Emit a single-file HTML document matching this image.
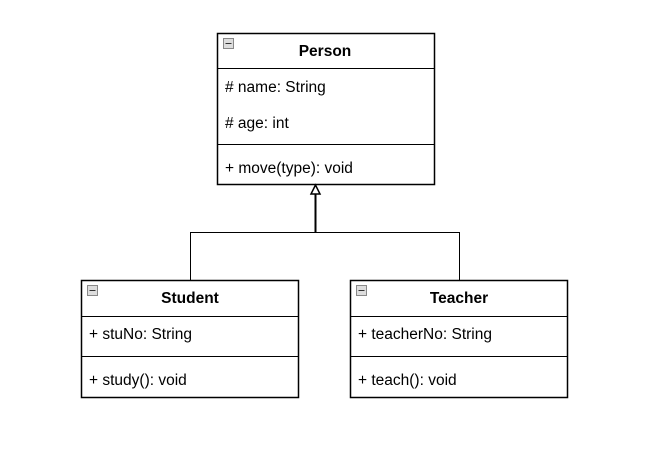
<!DOCTYPE html>
<html><head><style>body{margin:0;background:#fff}svg{display:block}text{font-family:"Liberation Sans",Arial,sans-serif;font-size:15.5px;fill:#000}</style></head>
<body>
<svg width="652" height="458" viewBox="0 0 652 458">
<g fill="none" stroke="#000" stroke-width="1">
<path d="M190.5 280V232.5H459.5V280"/>
<path d="M315.5 232.5V194" stroke-width="2"/>
<path d="M315.5 185L311 194H320Z" fill="#fff" stroke-width="1.5"/>
<rect x="217.5" y="33.5" width="217" height="151" stroke-width="1.5"/>
<path d="M217.5 68.5H434.5M217.5 144.5H434.5"/>
<rect x="81.5" y="280.5" width="217" height="117" stroke-width="1.5"/>
<path d="M81.5 316.5H298.5M81.5 356.5H298.5"/>
<rect x="350.5" y="280.5" width="217" height="117" stroke-width="1.5"/>
<path d="M350.5 316.5H567.5M350.5 356.5H567.5"/>
</g>
<g fill="#ddd" stroke="#888" stroke-width="1">
<rect x="223.5" y="38.5" width="10" height="10"/>
<rect x="87.5" y="285.5" width="10" height="10"/>
<rect x="356.5" y="285.5" width="10" height="10"/>
</g>
<g stroke="#333"><path d="M225.5 43.5H231.5M89.5 290.5H95.5M358.5 290.5H364.5"/></g>
<text x="325" y="56" text-anchor="middle" style="font-weight:bold">Person</text>
<text x="225" y="92"># name: String</text>
<text x="225" y="128"># age: int</text>
<text x="225" y="173">+ move(type): void</text>
<text x="190" y="303" text-anchor="middle" style="font-weight:bold">Student</text>
<text x="89" y="339">+ stuNo: String</text>
<text x="89" y="385">+ study(): void</text>
<text x="459" y="303" text-anchor="middle" style="font-weight:bold">Teacher</text>
<text x="358" y="339">+ teacherNo: String</text>
<text x="358" y="385">+ teach(): void</text>
</svg>
</body></html>
